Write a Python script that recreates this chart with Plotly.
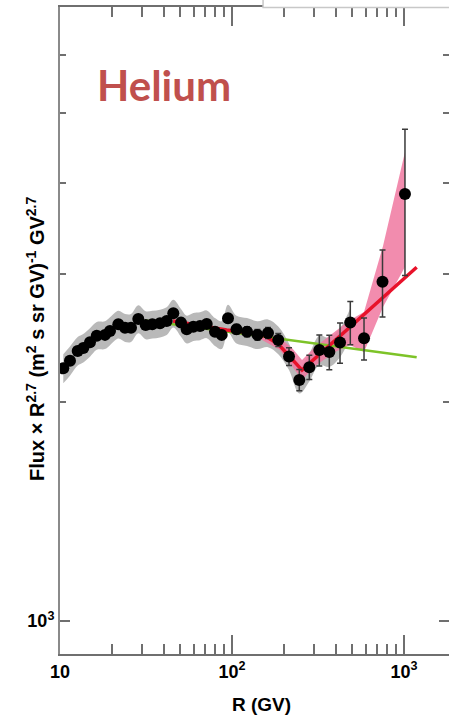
import plotly.graph_objects as go

# Helium rigidity spectrum, flux multiplied by R^2.7
rigidity = [10.45, 11.43, 12.67, 13.66, 14.94, 16.35, 18.26, 19.53, 21.83, 23.88,
            25.87, 28.52, 31.50, 34.40, 38.14, 41.72, 45.57, 50.52, 54.53, 59.57,
            65.16, 71.28, 79.63, 87.13, 94.78, 106.2, 122.3, 140.7, 161.9, 185.8,
            214.5, 246.2, 281.5, 321.9, 367.9, 424.6, 487.3, 585.5, 749.9, 1013]
flux = [2226, 2280, 2352, 2375, 2418, 2469, 2475, 2506, 2559, 2532,
        2532, 2603, 2554, 2559, 2568, 2587, 2650, 2573, 2519, 2540,
        2546, 2562, 2500, 2475, 2609, 2519, 2500, 2475, 2490, 2435,
        2311, 2146, 2234, 2359, 2344, 2416, 2574, 2448, 2929, 3867]
flux_err = [15, 15, 15, 15, 15, 15, 15, 15, 15, 18,
            18, 18, 18, 18, 18, 20, 20, 20, 20, 22,
            22, 24, 26, 35, 36, 38, 40, 42, 44, 50,
            65, 72, 86, 116, 128, 153, 176, 163, 310, 880]
# fractional systematic uncertainty (grey band), first 37 bins
sys_frac = [0.046, 0.046, 0.045, 0.045, 0.045, 0.044, 0.044, 0.044, 0.044, 0.044,
            0.044, 0.044, 0.044, 0.044, 0.044, 0.044, 0.044, 0.044, 0.044, 0.044,
            0.044, 0.044, 0.044, 0.044, 0.044, 0.044, 0.044, 0.044, 0.044, 0.044,
            0.042, 0.042, 0.044, 0.046, 0.046, 0.046, 0.046]

# fit with spectral hardening (red) and single power law (green)
red_R = [45.4, 65.2, 93.1, 132.5, 155.6, 185.8, 217.4, 255.3, 1185]
red_F = [2587, 2546, 2513, 2490, 2466, 2404, 2309, 2214, 3066]
green_R = [31.2, 1185]
green_F = [2590, 2306]

# pink uncertainty band of the hardening fit
pink_R = [136.0, 190.1, 223.3, 255.3, 303.8, 397.1, 485.3, 585.5, 755.0, 1013]
pink_hi = [2513, 2451, 2375, 2286, 2381, 2497, 2594, 2661, 3280, 4417]
pink_lo = [2466, 2359, 2243, 2146, 2243, 2344, 2397, 2344, 2703, 3068]

x_major = [10, 100, 1000]
x_major_text = ["10", "10<sup>2</sup>", "10<sup>3</sup>"]
x_minor = [20, 30, 40, 50, 60, 70, 80, 90, 200, 300, 400, 500, 600, 700, 800, 900]
y_major = [1000]
y_major_text = ["10<sup>3</sup>"]
y_minor = [2000, 3000, 4000, 5000, 6000]

n_sys = len(sys_frac)
band_R = rigidity[:n_sys]
band_hi = [f * (1 + s) for f, s in zip(flux[:n_sys], sys_frac)]
band_lo = [f * (1 - s) for f, s in zip(flux[:n_sys], sys_frac)]

AXIS_GREY = "#6f6f6f"

fig = go.Figure()

# systematic band
fig.add_trace(go.Scatter(x=band_R, y=band_hi, mode="lines", line=dict(width=0, shape="spline"),
                         hoverinfo="skip", showlegend=False))
fig.add_trace(go.Scatter(x=band_R, y=band_lo, mode="lines", line=dict(width=0, shape="spline"),
                         fill="tonexty", fillcolor="rgba(168,168,168,0.8)",
                         hoverinfo="skip", showlegend=False))

# hardening band
fig.add_trace(go.Scatter(x=pink_R + pink_R[::-1], y=pink_hi + pink_lo[::-1],
                         mode="lines", line=dict(width=0), fill="toself",
                         fillcolor="rgba(240,120,160,0.85)", hoverinfo="skip", showlegend=False))

# power-law fits
fig.add_trace(go.Scatter(x=green_R, y=green_F, mode="lines",
                         line=dict(color="rgb(125,195,40)", width=2.5), showlegend=False))
fig.add_trace(go.Scatter(x=red_R, y=red_F, mode="lines",
                         line=dict(color="rgb(232,18,42)", width=3.5), showlegend=False))

# measurements
fig.add_trace(go.Scatter(x=rigidity, y=flux, mode="markers",
                         marker=dict(color="black", size=12),
                         error_y=dict(type="data", array=flux_err, color="#3a3a3a",
                                      thickness=1.5, width=3),
                         showlegend=False))

# right-hand tick marks
fig.add_trace(go.Scatter(x=[None], y=[None], yaxis="y2", showlegend=False, hoverinfo="skip"))

tick_font = dict(family="Liberation Sans, Arial, sans-serif", size=18, color="black", weight="bold")

fig.update_layout(
    width=449, height=718,
    margin=dict(l=60, r=0, t=7, b=64, autoexpand=False),
    paper_bgcolor="white", plot_bgcolor="white",
    xaxis=dict(type="log", range=[1, 3.2616], showgrid=False, zeroline=False,
               showline=True, linecolor=AXIS_GREY, linewidth=2, mirror="ticks",
               ticks="inside", ticklen=19, tickwidth=1.5, tickcolor=AXIS_GREY,
               tickmode="array", tickvals=x_major, ticktext=x_major_text,
               tickfont=tick_font,
               minor=dict(tickmode="array", tickvals=x_minor, ticks="inside",
                          ticklen=10, tickwidth=1.5, tickcolor=AXIS_GREY, showgrid=False)),
    yaxis=dict(type="log", range=[2.9546, 3.8446], showgrid=False, zeroline=False,
               showline=True, linecolor="#8a8a8a", linewidth=2, mirror=False,
               ticks="inside", ticklen=10, tickwidth=1.5, tickcolor=AXIS_GREY,
               tickmode="array", tickvals=y_major, ticktext=y_major_text,
               tickfont=tick_font,
               minor=dict(tickmode="array", tickvals=y_minor, ticks="inside",
                          ticklen=6, tickwidth=1.5, tickcolor=AXIS_GREY, showgrid=False)),
    yaxis2=dict(type="log", range=[2.9546, 3.8446], overlaying="y", side="right",
                showgrid=False, zeroline=False, showline=False, showticklabels=False,
                ticks="inside", ticklen=10, tickwidth=1.5, tickcolor=AXIS_GREY,
                tickmode="array", tickvals=y_major,
                minor=dict(tickmode="array", tickvals=y_minor, ticks="inside",
                           ticklen=6, tickwidth=1.5, tickcolor=AXIS_GREY, showgrid=False)),
    annotations=[
        dict(text="Flux \u00d7 R<sup>2.7</sup> (m<sup>2</sup> s sr GV)<sup>-1</sup> GV<sup>2.7</sup>",
             xref="paper", yref="paper", x=-0.0617, y=0.4869, textangle=-90,
             xanchor="center", yanchor="middle", showarrow=False,
             font=dict(family="Liberation Sans, Arial, sans-serif", size=20,
                       color="black", weight="bold")),
        dict(text="R (GV)", xref="paper", yref="paper", x=0.517, y=-0.0788,
             xanchor="center", yanchor="middle", showarrow=False,
             font=dict(family="Liberation Sans, Arial, sans-serif", size=19,
                       color="black", weight="bold")),
        dict(text="Helium", xref="paper", yref="paper", x=0.09, y=0.8794,
             xanchor="left", yanchor="middle", showarrow=False,
             font=dict(family="Lato", size=42, color="rgb(192,80,77)", weight="bold")),
    ],
    shapes=[
        dict(type="rect", xref="paper", yref="paper", x0=0.522, x1=1.05, y0=0.9992, y1=1.2,
             line=dict(color="#c8c8c8", width=1.5), fillcolor="white", layer="above"),
    ],
)

fig.write_html("out.html")
